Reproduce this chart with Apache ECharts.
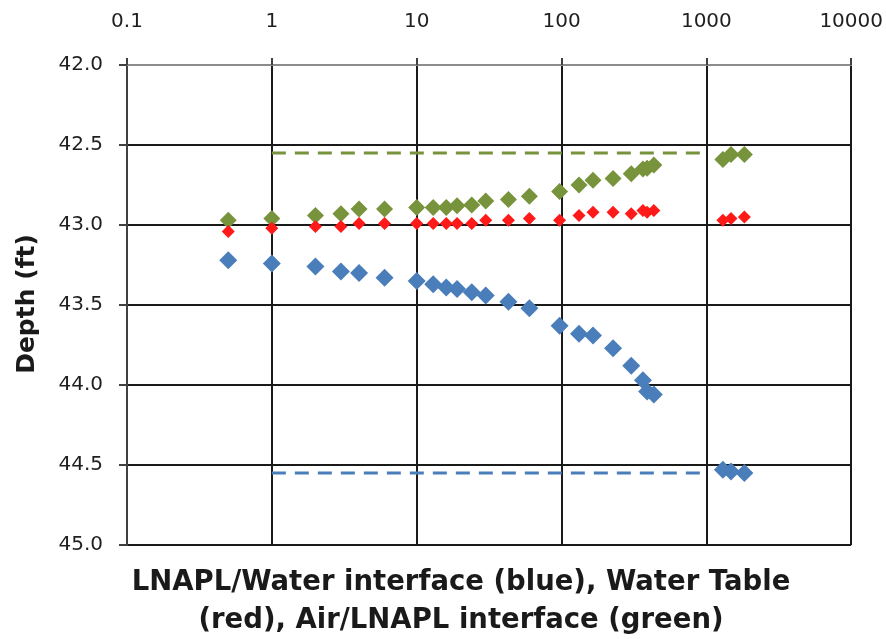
<!DOCTYPE html>
<html><head><meta charset="utf-8">
<script src="https://cdn.jsdelivr.net/npm/echarts@6/dist/echarts.min.js"></script>
<style>html,body{margin:0;padding:0;background:#fff}#c{width:886px;height:639px}</style>
</head><body><div id="c"></div>
<script>
// elapsed time (log x axis) shared by the three interface series
const elapsed = [0.5, 1, 2, 3, 4, 6, 10, 13, 16, 19, 24, 30, 43, 60, 97, 132, 165, 227, 303, 365, 390, 434, 1300, 1480, 1830];
const blueDepth = [43.22, 43.24, 43.26, 43.29, 43.30, 43.33, 43.35, 43.37, 43.39, 43.40, 43.42, 43.44, 43.48, 43.52, 43.63, 43.68, 43.69, 43.77, 43.88, 43.97, 44.04, 44.06, 44.53, 44.54, 44.55];
const redDepth = [43.04, 43.02, 43.01, 43.01, 42.99, 42.99, 42.99, 42.99, 42.99, 42.99, 42.99, 42.97, 42.97, 42.96, 42.97, 42.94, 42.92, 42.92, 42.93, 42.91, 42.92, 42.91, 42.97, 42.96, 42.95];
const greenDepth = [42.97, 42.96, 42.94, 42.93, 42.90, 42.90, 42.89, 42.89, 42.89, 42.88, 42.875, 42.85, 42.84, 42.82, 42.79, 42.75, 42.72, 42.71, 42.68, 42.65, 42.645, 42.625, 42.59, 42.56, 42.56];
// dashed reference lines
const refX = [1, 1000];
const greenRefDepth = [42.55, 42.55];
const blueRefDepth = [44.55, 44.55];
// axes
const xMin = 0.1, xMax = 10000;
const yMin = 42.0, yMax = 45.0, yStep = 0.5;
const yAxisTitle = 'Depth (ft)';
const xAxisTitle = 'LNAPL/Water interface (blue), Water Table\n(red), Air/LNAPL interface (green)';

const pairs = (xs, ys) => xs.map((x, i) => [x, ys[i]]);
const FONT = 'DejaVu Sans';
const chart = echarts.init(document.getElementById('c'), null, {renderer: 'canvas'});
chart.setOption({
  animation: false,
  backgroundColor: '#ffffff',
  grid: {left: 127, right: 33, top: 65, bottom: 94, containLabel: false},
  xAxis: {
    type: 'log', logBase: 10, position: 'top', min: xMin, max: xMax,
    axisLine: {show: true, lineStyle: {color: '#8c8c8c', width: 2}},
    axisTick: {show: true, length: 7, lineStyle: {color: '#404040', width: 2}},
    axisLabel: {margin: 33, fontFamily: FONT, fontSize: 20, color: '#1f1f1f',
      formatter: v => String(+(+v).toPrecision(6))},
    splitLine: {show: true, lineStyle: {color: '#1a1a1a', width: 2}},
    minorTick: {show: false}
  },
  yAxis: {
    type: 'value', inverse: true, min: yMin, max: yMax, interval: yStep,
    axisLine: {show: true, lineStyle: {color: '#404040', width: 2}},
    axisTick: {show: true, length: 8, lineStyle: {color: '#404040', width: 2}},
    axisLabel: {margin: 24, fontFamily: FONT, fontSize: 20, color: '#1f1f1f',
      formatter: v => (+v).toFixed(1)},
    splitLine: {show: true, lineStyle: {color: '#1a1a1a', width: 2}}
  },
  graphic: [
    {type: 'text', x: 27, y: 304, rotation: Math.PI / 2,
      style: {text: yAxisTitle, fontFamily: FONT, fontWeight: 'bold', fontSize: 25, fill: '#1a1a1a', textAlign: 'center', textVerticalAlign: 'middle'}},
    {type: 'text', x: 461, y: 602,
      style: {text: xAxisTitle, fontFamily: FONT, fontWeight: 'bold', fontSize: 27.5, lineHeight: 38, fill: '#1a1a1a', textAlign: 'center', textVerticalAlign: 'middle'}}
  ],
  series: [
    {type: 'line', data: pairs(refX, greenRefDepth), symbol: 'none', silent: true,
      lineStyle: {color: '#77933c', width: 3, type: [14, 9]}},
    {type: 'line', data: pairs(refX, blueRefDepth), symbol: 'none', silent: true,
      lineStyle: {color: '#4a7ebb', width: 3, type: [14, 9]}},
    {type: 'scatter', data: pairs(elapsed, blueDepth), symbol: 'diamond', symbolSize: 18,
      itemStyle: {color: '#4a7ebb', opacity: 1}},
    {type: 'scatter', data: pairs(elapsed, greenDepth), symbol: 'diamond', symbolSize: 17,
      itemStyle: {color: '#77933c', opacity: 1}},
    {type: 'scatter', data: pairs(elapsed, redDepth), symbol: 'diamond', symbolSize: 13,
      itemStyle: {color: '#ff1a1a', opacity: 1}}
  ]
});
</script></body></html>
